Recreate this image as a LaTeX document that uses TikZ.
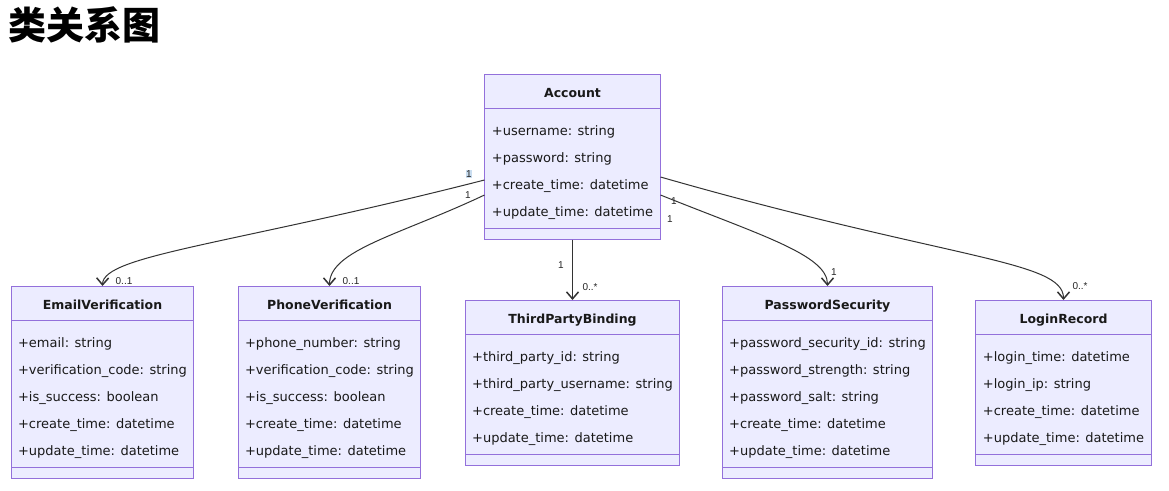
\documentclass[tikz,border=0pt]{standalone}
\usepackage{fontspec}
\setmainfont{DejaVu Sans}
\newfontfamily\cjkfont{Noto Sans CJK SC}
\newfontfamily\multfont{Liberation Sans}
\usetikzlibrary{arrows.meta, positioning, shapes.multipart, calc}
\usepackage{xcolor}
\definecolor{classfill}{HTML}{ECECFF}
\definecolor{classline}{HTML}{9370DB}
\definecolor{edgeline}{HTML}{333333}
\definecolor{hilite}{HTML}{C9DDF0}

% struts that fix the heights of the three compartments
\newcommand{\titlestrut}{\rule[-10pt]{0pt}{33pt}}
\newcommand{\firststrut}{\rule{0pt}{27pt}}
\newcommand{\laststrut}{\rule[-11pt]{0pt}{11pt}}
\newcommand{\emptystrut}{\rule{0pt}{10pt}}
\newcommand{\classtitle}[1]{{\fontsize{12.5pt}{15pt}\selectfont\bfseries #1}}

\begin{document}
\begin{tikzpicture}[
    x=1pt, y=-1pt,
    umlclass/.style={rectangle split, rectangle split parts=3, draw=classline,
                     fill=classfill, line width=0.9pt, inner xsep=7pt, inner ysep=0pt,
                     align=left, rectangle split part align={center,left,left},
                     font=\fontsize{13pt}{27pt}\selectfont, text=black!90, anchor=north},
    assoc/.style={draw=edgeline, line width=1pt,
                  -{Straight Barb[length=7pt, width=12pt, line width=1.5pt]}},
    mult/.style={font=\multfont\fontsize{10pt}{12pt}\selectfont, text=black!85, inner sep=0.6pt},
]
\useasboundingbox[fill=white] (0,0) rectangle (1169,490);

\node[anchor=west, font=\cjkfont\bfseries\fontsize{38pt}{42pt}\selectfont] (heading) at (5,25) {类关系图};

% classes
\node[umlclass] (acc) at (572.5,74) {\titlestrut\classtitle{Account}
  \nodepart{two}\firststrut+username: string\\+password: string\\+create\_time: datetime\\+update\_time: datetime\laststrut
  \nodepart{three}\emptystrut};
\node[umlclass] (email) at (102.5,286) {\titlestrut\classtitle{EmailVerification}
  \nodepart{two}\firststrut+email: string\\+verification\_code: string\\+is\_success: boolean\\+create\_time: datetime\\+update\_time: datetime\laststrut
  \nodepart{three}\emptystrut};
\node[umlclass] (phone) at (329.5,286) {\titlestrut\classtitle{PhoneVerification}
  \nodepart{two}\firststrut+phone\_number: string\\+verification\_code: string\\+is\_success: boolean\\+create\_time: datetime\\+update\_time: datetime\laststrut
  \nodepart{three}\emptystrut};
\node[umlclass] (third) at (572.5,300) {\titlestrut\classtitle{ThirdPartyBinding}
  \nodepart{two}\firststrut+third\_party\_id: string\\+third\_party\_username: string\\+create\_time: datetime\\+update\_time: datetime\laststrut
  \nodepart{three}\emptystrut};
\node[umlclass] (pwd) at (827.5,286) {\titlestrut\classtitle{PasswordSecurity}
  \nodepart{two}\firststrut+password\_security\_id: string\\+password\_strength: string\\+password\_salt: string\\+create\_time: datetime\\+update\_time: datetime\laststrut
  \nodepart{three}\emptystrut};
\node[umlclass] (login) at (1063.5,300) {\titlestrut\classtitle{LoginRecord}
  \nodepart{two}\firststrut+login\_time: datetime\\+login\_ip: string\\+create\_time: datetime\\+update\_time: datetime\laststrut
  \nodepart{three}\emptystrut};

% associations
\draw[assoc] ($(acc.north west)+(0,106)$) .. controls (230,245) and (103,255) .. (email.north);
\draw[assoc] ($(acc.north west)+(0,121)$) .. controls (400,235) and (329.5,250) .. (phone.north);
\draw[assoc] (acc.south) -- (third.north);
\draw[assoc] ($(acc.north east)+(0,121)$) .. controls (760,235) and (827.5,255) .. (pwd.north);
\draw[assoc] ($(acc.north east)+(0,103)$) .. controls (950,260) and (1063.5,260) .. (login.north);

% multiplicities
\node[mult, fill=hilite] (m-email-src) at (469,174) {1};
\node[mult] (m-email-dst) at (124,281) {0..1};
\node[mult] (m-phone-src) at (468,195) {1};
\node[mult] (m-phone-dst) at (351,281) {0..1};
\node[mult] (m-third-src) at (561,265) {1};
\node[mult] (m-third-dst) at (590,287) {0..*};
\node[mult] (m-pwd-src) at (674,201) {1};
\node[mult] (m-pwd-dst) at (834,272) {1};
\node[mult] (m-login-src) at (670,219) {1};
\node[mult] (m-login-dst) at (1080,286) {0..*};
\end{tikzpicture}
\end{document}
